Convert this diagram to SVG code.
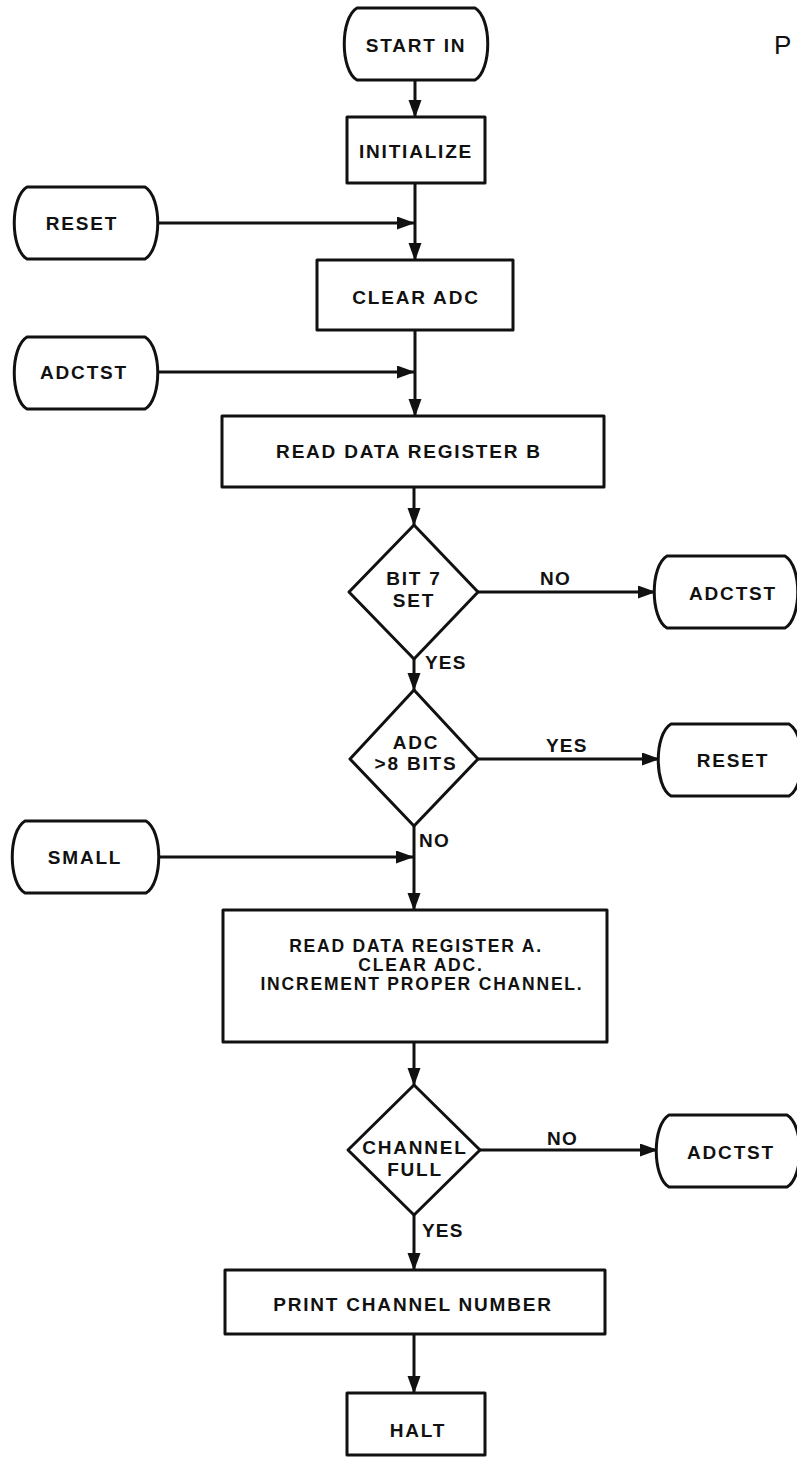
<svg xmlns="http://www.w3.org/2000/svg" width="797" height="1458" viewBox="0 0 797 1458">
<style>
.shape{fill:#fff;stroke:#111;stroke-width:3;stroke-linejoin:round}
.t{font-family:"Liberation Sans",Arial,sans-serif;font-weight:bold;font-size:19px;letter-spacing:1.8px;fill:#111;text-anchor:middle}
.m{font-family:"Liberation Sans",Arial,sans-serif;font-weight:bold;font-size:17.5px;letter-spacing:1.8px;fill:#111;text-anchor:middle}
.l{font-family:"Liberation Sans",Arial,sans-serif;font-weight:bold;font-size:19px;letter-spacing:1.2px;fill:#111}
.c{fill:none;stroke:#111;stroke-width:3}
</style>
<defs>
<marker id="ah" markerUnits="userSpaceOnUse" markerWidth="18" markerHeight="14" refX="17" refY="6.5" orient="auto">
<path d="M0,0 L18,6.5 L0,13 z" fill="#111"/>
</marker>
</defs>
<rect width="797" height="1458" fill="#fff"/>
<text x="774" y="54" style="font-family:'Liberation Sans',Arial,sans-serif;font-size:26px;fill:#111">P</text>

<g id="connectors">
<line class="c" x1="415" y1="80" x2="415" y2="117" marker-end="url(#ah)"/>
<line class="c" x1="415" y1="183" x2="415" y2="260" marker-end="url(#ah)"/>
<line class="c" x1="157" y1="223" x2="414" y2="223" marker-end="url(#ah)"/>
<line class="c" x1="415" y1="330" x2="415" y2="416" marker-end="url(#ah)"/>
<line class="c" x1="157" y1="372" x2="414" y2="372" marker-end="url(#ah)"/>
<line class="c" x1="414" y1="487" x2="414" y2="525" marker-end="url(#ah)"/>
<line class="c" x1="478" y1="592" x2="655" y2="592" marker-end="url(#ah)"/>
<line class="c" x1="414" y1="659" x2="414" y2="690" marker-end="url(#ah)"/>
<line class="c" x1="478" y1="759" x2="659" y2="759" marker-end="url(#ah)"/>
<line class="c" x1="414" y1="826" x2="414" y2="910" marker-end="url(#ah)"/>
<line class="c" x1="158" y1="857" x2="413" y2="857" marker-end="url(#ah)"/>
<line class="c" x1="414" y1="1042" x2="414" y2="1085" marker-end="url(#ah)"/>
<line class="c" x1="480" y1="1150" x2="657" y2="1150" marker-end="url(#ah)"/>
<line class="c" x1="414" y1="1215" x2="414" y2="1270" marker-end="url(#ah)"/>
<line class="c" x1="414" y1="1334" x2="414" y2="1393" marker-end="url(#ah)"/>
<text class="l" x="540" y="585">NO</text>
<text class="l" x="425" y="669">YES</text>
<text class="l" x="546" y="752">YES</text>
<text class="l" x="419" y="847">NO</text>
<text class="l" x="547" y="1145">NO</text>
<text class="l" x="422" y="1237">YES</text>
</g>

<g id="start-in">
<path class="shape" d="M357,8 L475,8 C492,18 492,70 475,80 L357,80 C340,70 340,18 357,8 Z"/>
<text class="t" x="416" y="52">START IN</text>
</g>
<g id="initialize">
<rect class="shape" x="347" y="117" width="138" height="66"/>
<text class="t" x="416" y="158">INITIALIZE</text>
</g>
<g id="reset-in">
<path class="shape" d="M27,187 L145,187 C162,197 162,249 145,259 L27,259 C10,249 10,197 27,187 Z"/>
<text class="t" x="82" y="230">RESET</text>
</g>
<g id="clear-adc">
<rect class="shape" x="317" y="260" width="196" height="70"/>
<text class="t" x="416" y="304">CLEAR ADC</text>
</g>
<g id="adctst-in">
<path class="shape" d="M27,337 L145,337 C162,347 162,399 145,409 L27,409 C10,399 10,347 27,337 Z"/>
<text class="t" x="84" y="379">ADCTST</text>
</g>
<g id="read-b">
<rect class="shape" x="222" y="416" width="382" height="71"/>
<text class="t" x="409" y="458">READ DATA REGISTER B</text>
</g>
<g id="bit7">
<path class="shape" d="M414,525 L478,592 L414,659 L349,592 Z"/>
<text class="t" x="414" y="585">BIT 7</text>
<text class="t" x="414" y="607">SET</text>
</g>
<g id="adctst-out1">
<path class="shape" d="M667,556 L785,556 C802,566 802,618 785,628 L667,628 C650,618 650,566 667,556 Z"/>
<text class="t" x="733" y="600">ADCTST</text>
</g>
<g id="adc8">
<path class="shape" d="M414,690 L478,759 L414,826 L350,759 Z"/>
<text class="t" x="416" y="749">ADC</text>
<text class="t" x="416" y="770">&gt;8 BITS</text>
</g>
<g id="reset-out">
<path class="shape" d="M671,724 L789,724 C806,734 806,786 789,796 L671,796 C654,786 654,734 671,724 Z"/>
<text class="t" x="733" y="767">RESET</text>
</g>
<g id="small">
<path class="shape" d="M25,821 L146,821 C163,831 163,883 146,893 L25,893 C8,883 8,831 25,821 Z"/>
<text class="t" x="85" y="864">SMALL</text>
</g>
<g id="read-a">
<rect class="shape" x="223" y="910" width="384" height="132"/>
<text class="m" x="416" y="952">READ DATA REGISTER A.</text>
<text class="m" x="421" y="971">CLEAR ADC.</text>
<text class="m" x="422" y="990">INCREMENT PROPER CHANNEL.</text>
</g>
<g id="channel-full">
<path class="shape" d="M414,1085 L480,1150 L414,1215 L348,1150 Z"/>
<text class="t" x="415" y="1154">CHANNEL</text>
<text class="t" x="415" y="1176">FULL</text>
</g>
<g id="adctst-out2">
<path class="shape" d="M669,1115 L787,1115 C804,1125 804,1177 787,1187 L669,1187 C652,1177 652,1125 669,1115 Z"/>
<text class="t" x="731" y="1159">ADCTST</text>
</g>
<g id="print">
<rect class="shape" x="225" y="1270" width="380" height="64"/>
<text class="t" x="413" y="1311">PRINT CHANNEL NUMBER</text>
</g>
<g id="halt">
<rect class="shape" x="347" y="1393" width="138" height="62"/>
<text class="t" x="418" y="1437">HALT</text>
</g>
</svg>
